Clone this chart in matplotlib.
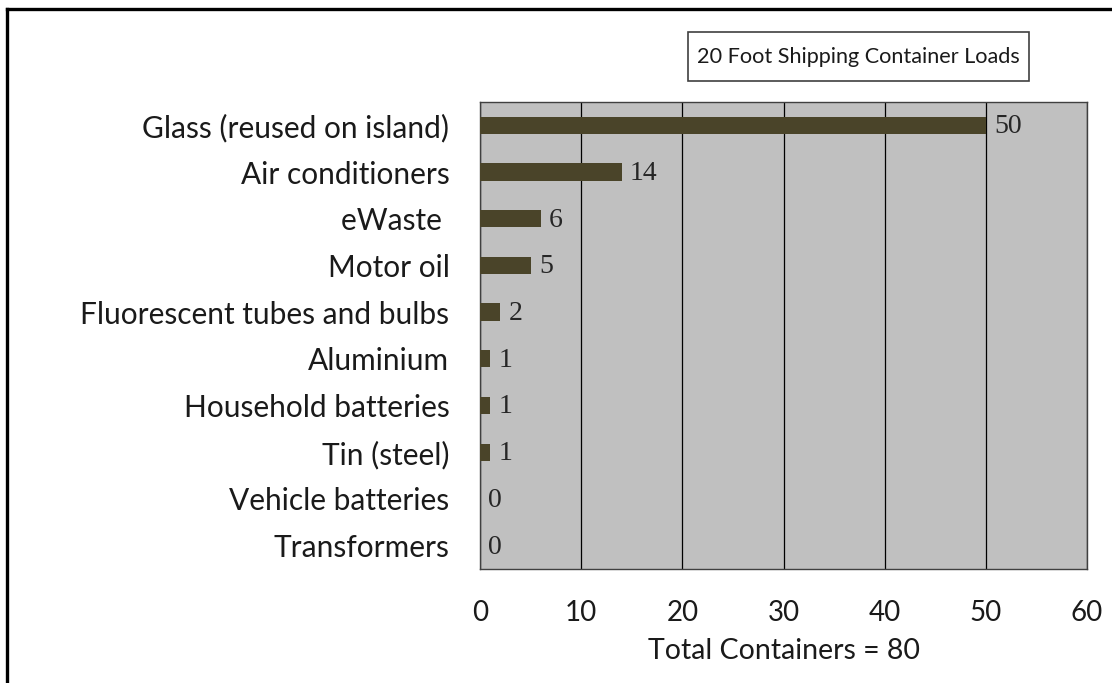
import matplotlib
matplotlib.use("Agg")
import matplotlib.pyplot as plt
from matplotlib.lines import Line2D
from matplotlib.patches import Rectangle

# data
categories = ["Glass (reused on island)", "Air conditioners", "eWaste ", "Motor oil",
              "Fluorescent tubes and bulbs", "Aluminium", "Household batteries",
              "Tin (steel)", "Vehicle batteries", "Transformers"]
containers = [50, 14, 6, 5, 2, 1, 1, 1, 0, 0]
xticks = [0, 10, 20, 30, 40, 50, 60]
title = "20 Foot Shipping Container Loads"
xlabel = "Total Containers = 80"

sans = "Lato"
serif = "Liberation Serif"
bar_color = "#4a4429"
bg = "#c0c0c0"

fig = plt.figure(figsize=(11.12, 6.83), dpi=100)
ax = fig.add_axes([0.4317, 0.1669, 0.5459, 0.6838])
ax.set_facecolor(bg)

ypos = list(range(len(categories)))
ax.barh(ypos, containers, height=0.37, color=bar_color, linewidth=0, zorder=3)
for y, v in zip(ypos, containers):
    ax.annotate(str(v), (v, y), xytext=(6, -1), textcoords="offset points",
                ha="left", va="center", fontsize=20, family=serif, color="#262626")

ax.set_xlim(0, 60)
ax.set_ylim(len(categories) - 0.5, -0.5)
ax.set_xticks(xticks)
ax.set_yticks(ypos)
ax.set_yticklabels(categories, fontsize=21.5, family=sans, color="#1a1a1a")
ax.set_xticklabels([str(t) for t in xticks], fontsize=20, family=sans, color="#1a1a1a")
ax.tick_params(axis="both", length=0)
ax.tick_params(axis="x", pad=22)
ax.tick_params(axis="y", pad=22)
ax.xaxis.grid(True, color="black", linewidth=0.9, zorder=1)
ax.set_axisbelow(True)
for s in ax.spines.values():
    s.set_color("#404040")
    s.set_linewidth(1.0)
ax.set_xlabel(xlabel, fontsize=20.5, family=sans, color="#1a1a1a", labelpad=9)

# title box
fig.patches.append(Rectangle((688 / 1112, 1 - 81 / 683), 341 / 1112, 49 / 683,
                             transform=fig.transFigure, facecolor="white",
                             edgecolor="#404040", linewidth=1.2))
fig.text(858.5 / 1112, 1 - 57 / 683, title, ha="center", va="center",
         fontsize=15.6, family=sans, color="#1a1a1a")

# outer frame (left and top edges only, rest is cropped)
fig.add_artist(Line2D([7 / 1112, 7 / 1112], [0, 1 - 9 / 683], transform=fig.transFigure,
                      color="black", linewidth=2.4))
fig.add_artist(Line2D([7 / 1112, 1], [1 - 9 / 683, 1 - 9 / 683], transform=fig.transFigure,
                      color="black", linewidth=2.4))

fig.savefig("out.png", dpi=100)
